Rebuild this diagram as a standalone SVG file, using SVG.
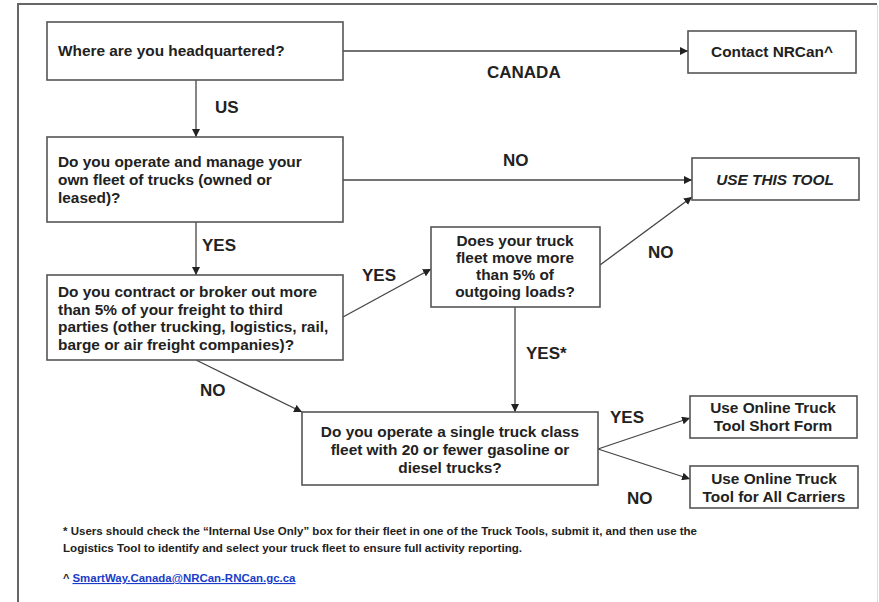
<svg xmlns="http://www.w3.org/2000/svg" width="879" height="602" viewBox="0 0 879 602">
<defs>
<marker id="ah" viewBox="0 0 10 10" refX="10" refY="5" markerWidth="8" markerHeight="8" markerUnits="userSpaceOnUse" orient="auto">
<path d="M0,0 L10,5 L0,10 z" fill="#222"/>
</marker>
<style>
.box{fill:#fff;stroke:#555;stroke-width:1.6}
.t{font-family:"Liberation Sans",Arial,sans-serif;font-weight:bold;font-size:15.4px;fill:#222}
.c{text-anchor:middle}
.lbl{font-family:"Liberation Sans",Arial,sans-serif;font-weight:bold;font-size:17px;fill:#222}
.ln{fill:none;stroke:#444;stroke-width:1.3;marker-end:url(#ah)}
.ft{font-family:"Liberation Sans",Arial,sans-serif;font-weight:bold;font-size:11px;fill:#222}
.lk{fill:#1a3cc8;text-decoration:underline}
</style>
</defs>
<rect width="879" height="602" fill="#fff"/>
<path d="M18,602 V4 H877" fill="none" stroke="#666" stroke-width="2"/>
<line x1="877.5" y1="5" x2="877.5" y2="602" stroke="#ddd" stroke-width="1"/>

<g id="connectors">
<line class="ln" x1="343" y1="51" x2="688" y2="51"/>
<line class="ln" x1="196" y1="80" x2="196" y2="137"/>
<line class="ln" x1="343" y1="180" x2="692" y2="180"/>
<line class="ln" x1="196" y1="222" x2="196" y2="275"/>
<line class="ln" x1="343" y1="317" x2="431" y2="269"/>
<line class="ln" x1="600" y1="265" x2="692" y2="197"/>
<line class="ln" x1="515" y1="307" x2="515" y2="412"/>
<line class="ln" x1="196" y1="360" x2="302" y2="412"/>
<line class="ln" x1="598" y1="449" x2="690" y2="418"/>
<line class="ln" x1="598" y1="449" x2="690" y2="479"/>
</g>

<g id="labels">
<text class="lbl" x="487" y="78">CANADA</text>
<text class="lbl" x="215" y="113">US</text>
<text class="lbl" x="503" y="166">NO</text>
<text class="lbl" x="202" y="251">YES</text>
<text class="lbl" x="362" y="281">YES</text>
<text class="lbl" x="648" y="258">NO</text>
<text class="lbl" x="526" y="359">YES*</text>
<text class="lbl" x="200" y="396">NO</text>
<text class="lbl" x="610" y="423">YES</text>
<text class="lbl" x="627" y="504">NO</text>
</g>

<g id="n-hq">
<rect class="box" x="47" y="22" width="296" height="58"/>
<text class="t" x="58" y="56">Where are you headquartered?</text>
</g>

<g id="n-nrcan">
<rect class="box" x="688" y="31" width="168" height="42"/>
<text class="t c" x="772" y="57">Contact NRCan^</text>
</g>

<g id="n-operate">
<rect class="box" x="47" y="137" width="296" height="85"/>
<text class="t" x="58" y="167">Do you operate and manage your</text>
<text class="t" x="58" y="185">own fleet of trucks (owned or</text>
<text class="t" x="58" y="203">leased)?</text>
</g>

<g id="n-usetool">
<rect class="box" x="692" y="158" width="167" height="42"/>
<text class="t c" x="775" y="185" font-style="italic">USE THIS TOOL</text>
</g>

<g id="n-contract">
<rect class="box" x="47" y="275" width="296" height="85"/>
<text class="t" x="58" y="297">Do you contract or broker out more</text>
<text class="t" x="58" y="314.5">than 5% of your freight to third</text>
<text class="t" x="58" y="332">parties (other trucking, logistics, rail,</text>
<text class="t" x="58" y="349.5">barge or air freight companies)?</text>
</g>

<g id="n-fleetmove">
<rect class="box" x="431" y="227" width="169" height="80"/>
<text class="t c" x="515" y="246">Does your truck</text>
<text class="t c" x="515" y="263">fleet move more</text>
<text class="t c" x="515" y="280">than 5% of</text>
<text class="t c" x="515" y="297">outgoing loads?</text>
</g>

<g id="n-single">
<rect class="box" x="302" y="412" width="296" height="73"/>
<text class="t c" x="450" y="437">Do you operate a single truck class</text>
<text class="t c" x="450" y="455">fleet with 20 or fewer gasoline or</text>
<text class="t c" x="450" y="473">diesel trucks?</text>
</g>

<g id="n-short">
<rect class="box" x="690" y="396" width="167" height="42"/>
<text class="t c" x="773" y="413">Use Online Truck</text>
<text class="t c" x="773" y="431">Tool Short Form</text>
</g>

<g id="n-all">
<rect class="box" x="690" y="466" width="168" height="42"/>
<text class="t c" x="774" y="484">Use Online Truck</text>
<text class="t c" x="774" y="502">Tool for All Carriers</text>
</g>

<g id="footer">
<text class="ft" x="63" y="535" textLength="634" lengthAdjust="spacingAndGlyphs">* Users should check the “Internal Use Only” box for their fleet in one of the Truck Tools, submit it, and then use the</text>
<text class="ft" x="63" y="552" textLength="459" lengthAdjust="spacingAndGlyphs">Logistics Tool to identify and select your truck fleet to ensure full activity reporting.</text>
<text class="ft" x="63" y="582">^ <tspan class="lk" textLength="223" lengthAdjust="spacingAndGlyphs">SmartWay.Canada@NRCan-RNCan.gc.ca</tspan></text>
</g>
</svg>
